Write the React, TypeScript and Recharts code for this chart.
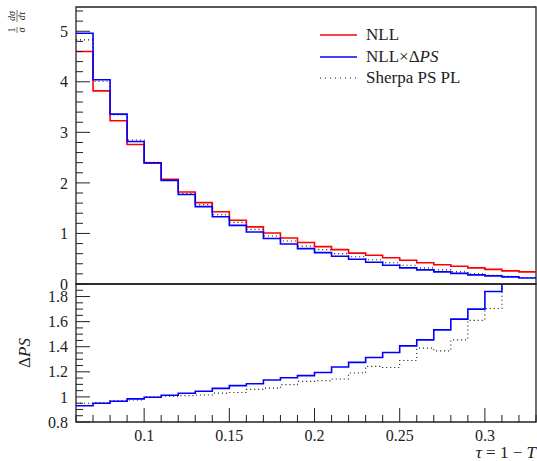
import { LineChart, Line, XAxis, YAxis, ReferenceArea } from 'recharts';

// bin edges in tau = 1 - T
const binEdges = [
  0.06, 0.07, 0.08, 0.09, 0.1, 0.11, 0.12, 0.13, 0.14, 0.15, 0.16, 0.17, 0.18, 0.19,
  0.2, 0.21, 0.22, 0.23, 0.24, 0.25, 0.26, 0.27, 0.28, 0.29, 0.3, 0.31, 0.32, 0.33,
];

const nll = [
  4.6, 3.82, 3.23, 2.76, 2.39, 2.07, 1.82, 1.61, 1.43, 1.26, 1.13, 1.01, 0.91, 0.82,
  0.74, 0.68, 0.61, 0.57, 0.52, 0.47, 0.42, 0.38, 0.35, 0.32, 0.29, 0.26, 0.24,
];
const nllDeltaPS = [
  4.96, 4.04, 3.36, 2.82, 2.4, 2.05, 1.77, 1.53, 1.33, 1.16, 1.03, 0.9, 0.79, 0.7,
  0.62, 0.55, 0.49, 0.43, 0.37, 0.32, 0.28, 0.24, 0.21, 0.18, 0.16, 0.14, 0.12,
];
const sherpaPSPL = [
  4.83, 4.01, 3.35, 2.85, 2.41, 2.06, 1.79, 1.57, 1.37, 1.22, 1.08, 0.95, 0.85, 0.75,
  0.68, 0.6, 0.54, 0.48, 0.42, 0.37, 0.32, 0.28, 0.24, 0.2, 0.17, 0.15, 0.13,
];

const ratioNllDeltaPS = [
  0.93, 0.95, 0.965, 0.984, 0.997, 1.013, 1.029, 1.045, 1.068, 1.09, 1.105, 1.135, 1.153, 1.17,
  1.195, 1.238, 1.275, 1.314, 1.354, 1.407, 1.455, 1.534, 1.62, 1.7, 1.84, 2.0, 2.2,
];
const ratioSherpa = [
  0.95, 0.955, 0.97, 0.975, 1.0, 1.005, 1.01, 1.015, 1.03, 1.035, 1.06, 1.07, 1.098, 1.124,
  1.13, 1.143, 1.19, 1.243, 1.235, 1.29, 1.389, 1.367, 1.455, 1.61, 1.705, 2.0, 2.2,
];

const xMajor = [0.1, 0.15, 0.2, 0.25, 0.3];
const yTopMajor = [0, 1, 2, 3, 4, 5];
const yBotMajor = [0.8, 1, 1.2, 1.4, 1.6, 1.8];

const yTopTicks = Array.from({ length: 28 }, (_, i) => +(i * 0.2).toFixed(2));
const yBotTicks = Array.from({ length: 23 }, (_, i) => +(0.8 + i * 0.05).toFixed(2));

// stepAfter needs one extra point at the right edge
const step = (key: string, vals: number[]) =>
  binEdges.map((x, i) => ({ x, [key]: vals[Math.min(i, vals.length - 1)] }));

const topData = binEdges.map((x, i) => ({
  ...step('nll', nll)[i],
  ...step('nllPS', nllDeltaPS)[i],
  ...step('sherpa', sherpaPSPL)[i],
}));
const botData = binEdges.map((x, i) => ({
  ...step('rPS', ratioNllDeltaPS)[i],
  ...step('rSherpa', ratioSherpa)[i],
}));

const FONT = '"Liberation Serif", "DejaVu Serif", serif';
const INK = '#222';
const TICK_FS = 16;
const isMajor = (majors: number[], v: number) => majors.some((m) => Math.abs(m - v) < 1e-6);

function XTick(props: any) {
  const { x, y, payload, labels } = props;
  const major = isMajor(xMajor, payload.value);
  return (
    <g>
      <line x1={x} x2={x} y1={y} y2={y - (major ? 14 : 7)} stroke={INK} strokeWidth={1} />
      {labels && major && (
        <text x={x} y={y + 19} textAnchor="middle" fontSize={TICK_FS} fontFamily={FONT} fill={INK}>
          {String(payload.value)}
        </text>
      )}
    </g>
  );
}

function YTick(props: any) {
  const { x, y, payload, majors } = props;
  const major = isMajor(majors, payload.value);
  return (
    <g>
      <line x1={x} x2={x + (major ? 14 : 7)} y1={y} y2={y} stroke={INK} strokeWidth={1} />
      {major && (
        <text x={x - 8} y={y} dy="0.35em" textAnchor="end" fontSize={TICK_FS} fontFamily={FONT} fill={INK}>
          {String(Number(payload.value.toFixed(2)))}
        </text>
      )}
    </g>
  );
}

function LegendRow({ top, color, dash, children }: any) {
  return (
    <div style={{ position: 'absolute', left: 320, top: top - 10, height: 20, display: 'flex', alignItems: 'center' }}>
      <svg width={37} height={20}>
        <line x1={0} x2={37} y1={10} y2={10} stroke={color} strokeWidth={dash ? 1.2 : 1.6} strokeDasharray={dash} />
      </svg>
      <span style={{ marginLeft: 9, fontSize: 17, fontFamily: FONT, color: INK, whiteSpace: 'nowrap' }}>{children}</span>
    </div>
  );
}

export default function App() {
  return (
    <div style={{ position: 'absolute', left: 0, top: 0, width: 537, height: 461, background: '#fff' }}>
      <style>{'.recharts-surface{overflow:visible}'}</style>
      <div style={{ position: 'absolute', left: 0, top: 284 }}>
        <LineChart width={537} height={177} data={botData} margin={{ top: 0, right: 1, left: 0, bottom: 0 }}>
          <XAxis
            dataKey="x"
            type="number"
            domain={[0.06, 0.33]}
            ticks={binEdges}
            interval={0}
            height={39}
            tickSize={0}
            tickMargin={0}
            axisLine={false}
            tickLine={false}
            tick={(p: any) => <XTick {...p} labels />}
          />
          <YAxis
            type="number"
            domain={[0.8, 1.9]}
            allowDataOverflow
            ticks={yBotTicks}
            interval={0}
            width={76}
            tickSize={0}
            tickMargin={0}
            axisLine={false}
            tickLine={false}
            tick={(p: any) => <YTick {...p} majors={yBotMajor} />}
          />
          <ReferenceArea x1={0.06} x2={0.33} y1={0.8} y2={1.9} fill="none" stroke={INK} strokeWidth={1.3} />
          <Line type="stepAfter" dataKey="rSherpa" stroke="#111" strokeWidth={1.1} strokeDasharray="1 3" dot={false} isAnimationActive={false} />
          <Line type="stepAfter" dataKey="rPS" stroke="#0000ff" strokeWidth={1.6} dot={false} isAnimationActive={false} />
        </LineChart>
      </div>
      <div style={{ position: 'absolute', left: 0, top: 0 }}>
        <LineChart width={537} height={284} data={topData} margin={{ top: 7, right: 1, left: 0, bottom: 0 }}>
          <XAxis
            dataKey="x"
            type="number"
            domain={[0.06, 0.33]}
            ticks={binEdges}
            interval={0}
            height={0}
            tickSize={0}
            tickMargin={0}
            axisLine={false}
            tickLine={false}
            tick={(p: any) => <XTick {...p} labels={false} />}
          />
          <YAxis
            type="number"
            domain={[0, 5.48]}
            allowDataOverflow
            ticks={yTopTicks}
            interval={0}
            width={76}
            tickSize={0}
            tickMargin={0}
            axisLine={false}
            tickLine={false}
            tick={(p: any) => <YTick {...p} majors={yTopMajor} />}
          />
          <ReferenceArea x1={0.06} x2={0.33} y1={0} y2={5.48} fill="none" stroke={INK} strokeWidth={1.3} />
          <Line type="stepAfter" dataKey="sherpa" stroke="#111" strokeWidth={1.1} strokeDasharray="1 3" dot={false} isAnimationActive={false} />
          <Line type="stepAfter" dataKey="nll" stroke="#ff0000" strokeWidth={1.6} dot={false} isAnimationActive={false} />
          <Line type="stepAfter" dataKey="nllPS" stroke="#0000ff" strokeWidth={1.6} dot={false} isAnimationActive={false} />
        </LineChart>
      </div>

      {/* legend */}
      <LegendRow top={35} color="#ff0000">NLL</LegendRow>
      <LegendRow top={57} color="#0000ff">
        NLL×Δ<i>PS</i>
      </LegendRow>
      <LegendRow top={78} color="#111" dash="1 4">Sherpa PS PL</LegendRow>

      {/* y label, top panel: 1/σ dσ/dτ */}
      <svg style={{ position: 'absolute', left: 0, top: 0 }} width={40} height={44}>
        <g transform="translate(18,21) rotate(-90)" fontFamily={FONT} fontSize={10} fill={INK}>
          <text x={-9} y={-3} textAnchor="middle">1</text>
          <line x1={-12} x2={-6} y1={-1} y2={-1} stroke={INK} strokeWidth={0.6} />
          <text x={-9} y={7} textAnchor="middle" fontStyle="italic">σ</text>
          <text x={5} y={-3} textAnchor="middle" fontStyle="italic">dσ</text>
          <line x1={-1} x2={11} y1={-1} y2={-1} stroke={INK} strokeWidth={0.6} />
          <text x={5} y={7} textAnchor="middle" fontStyle="italic">dτ</text>
        </g>
      </svg>

      {/* y label, ratio panel */}
      <svg style={{ position: 'absolute', left: 0, top: 320 }} width={40} height={70}>
        <text
          transform="translate(30,33) rotate(-90)"
          textAnchor="middle"
          fontFamily={FONT}
          fontSize={17}
          fill={INK}
        >
          Δ<tspan fontStyle="italic">PS</tspan>
        </text>
      </svg>

      {/* x label */}
      <div
        style={{
          position: 'absolute',
          right: 1,
          top: 445,
          fontFamily: FONT,
          fontSize: 17,
          color: INK,
          whiteSpace: 'nowrap',
          lineHeight: '15px',
        }}
      >
        <i>τ</i> = 1 − <i>T</i>
      </div>
    </div>
  );
}
